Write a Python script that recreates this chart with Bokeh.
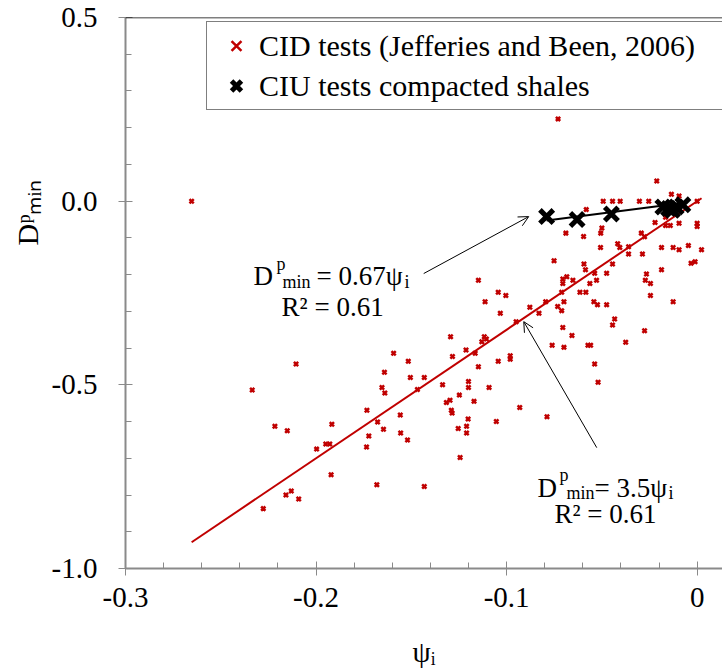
from bokeh.plotting import figure
from bokeh.models import (Legend, LegendItem, Label, Arrow, OpenHead,
                          FixedTicker, Span, Title)
from bokeh.embed import file_html
from bokeh.resources import INLINE

# ---------------- data ----------------
cid_psi = [
    -0.0730, -0.2653, -0.0212, -0.0135, -0.0095, -0.0493, -0.0444, -0.0404,
    -0.0303, -0.0254, 0.0000, -0.0582, -0.0689, -0.0596, -0.0500, -0.0506,
    -0.0221, -0.0166, -0.0166, -0.0141, -0.0095, 0.0000, 0.0000, -0.0293,
    -0.0507, -0.0417, -0.0406, -0.0187, -0.0126, -0.0095, -0.0046, 0.0023,
    -0.0360, -0.0276, -0.0360, -0.0287, -0.0751, -0.0594, -0.0586, -0.0538,
    -0.0444, -0.0475, -0.0187, -0.0032, -0.0011, -0.0266, -0.0272, -0.0245,
    -0.0245, -0.0126, -0.0684, -0.0705, -0.0705, -0.0652, -0.0711, -0.0615,
    -0.0584, -0.0563, -0.0528, -0.0542, -0.0523, -0.0475, -0.0699, -0.0732,
    -0.0711, -0.0795, -0.0830, -0.0878, -0.0950, -0.1044, -0.1004, -0.1113,
    -0.1033, -0.1148, -0.0705, -0.0657, -0.0433, -0.0444, -0.0375, -0.0276,
    -0.0761, -0.0699, -0.0573, -0.0559, -0.0538, -0.1294, -0.1117, -0.1106,
    -0.1130, -0.1284, -0.1213, -0.1165, -0.1148, -0.1044, -0.0981, -0.0981,
    -0.1593, -0.1516, -0.1641, -0.1505, -0.1432, -0.2105, -0.0520, -0.2335,
    -0.2216, -0.2151, -0.1654, -0.1639, -0.1468, -0.1336, -0.1200, -0.1200,
    -0.1092, -0.1248, -0.1316, -0.1297, -0.1171, -0.1290, -0.1286, -0.1202,
    -0.1210, -0.1210, -0.1254, -0.1054, -0.0931, -0.0788, -0.1244, -0.1733,
    -0.1677, -0.1646, -0.1558, -0.1556, -0.1520, -0.1723, -0.1735, -0.1917,
    -0.1949, -0.1928, -0.1997, -0.1921, -0.1681, -0.1432, -0.2130, -0.2158,
    -0.2091, -0.2277,
]
cid_dmin = [
    0.224, 0.000, 0.055, 0.019, 0.014, 0.000, 0.000, 0.000,
    0.000, 0.000, 0.000, -0.023, -0.087, -0.096, -0.073, -0.087,
    -0.058, -0.044, -0.066, -0.066, -0.060, -0.060, -0.069, -0.087,
    -0.126, -0.116, -0.126, -0.126, -0.126, -0.132, -0.121, -0.132,
    -0.124, -0.097, -0.144, -0.144, -0.162, -0.171, -0.187, -0.196,
    -0.171, -0.196, -0.187, -0.169, -0.165, -0.198, -0.215, -0.224,
    -0.257, -0.274, -0.206, -0.212, -0.224, -0.215, -0.248, -0.248,
    -0.248, -0.224, -0.215, -0.274, -0.282, -0.282, -0.274, -0.287,
    -0.298, -0.274, -0.305, -0.289, -0.328, -0.248, -0.257, -0.274,
    -0.305, -0.215, -0.344, -0.366, -0.321, -0.337, -0.384, -0.353,
    -0.392, -0.398, -0.392, -0.392, -0.443, -0.369, -0.369, -0.375,
    -0.383, -0.423, -0.405, -0.414, -0.451, -0.436, -0.421, -0.430,
    -0.414, -0.436, -0.466, -0.480, -0.480, -0.443, -0.493, -0.514,
    -0.613, -0.625, -0.507, -0.522, -0.513, -0.500, -0.491, -0.507,
    -0.507, -0.528, -0.548, -0.542, -0.545, -0.569, -0.577, -0.593,
    -0.613, -0.631, -0.619, -0.600, -0.562, -0.587, -0.698, -0.569,
    -0.601, -0.621, -0.582, -0.631, -0.650, -0.639, -0.669, -0.607,
    -0.661, -0.661, -0.675, -0.745, -0.772, -0.777, -0.789, -0.800,
    -0.811, -0.837,
]
ciu_psi = [-0.079, -0.063, -0.045, -0.018, -0.015, -0.011, -0.0075, -0.013]
ciu_dmin = [-0.042, -0.050, -0.035, -0.016, -0.020, -0.016, -0.010, -0.025]

cid_slope = 3.5     # D^p_min = 3.5 psi_i
ciu_slope = 0.67    # D^p_min = 0.67 psi_i

cid_label = "CID tests (Jefferies and Been, 2006)"
ciu_label = "CIU tests compacted shales"
x_title = "\u03c8\u1d62"                       # psi_i
y_title = "D\u1d56\u2098\u1d62\u2099"          # D^p_min

x_ticks = [-0.3, -0.2, -0.1, 0.0]
x_tick_labels = ["-0.3", "-0.2", "-0.1", "0"]
y_ticks = [-1.0, -0.5, 0.0, 0.5]
y_tick_labels = ["-1.0", "-0.5", "0.0", "0.5"]
x_minor = [round(-0.3 + 0.02 * i, 2) for i in range(16)]
y_minor = [round(-1.0 + 0.1 * i, 1) for i in range(16)]

FONT = "Liberation Serif"
RED = "#C00000"
AXIS_GREY = "#8a8a8a"


def overrides(ticks, labels):
    d = {}
    for t, l in zip(ticks, labels):
        d[float(t)] = l
        s = repr(float(t))
        d[s[:-2] if s.endswith(".0") else s] = l
    return d


p = figure(frame_width=597, frame_height=551,
           x_range=(-0.3, 0.0133), y_range=(-1.0, 0.5),
           output_backend="svg", toolbar_location=None,
           min_border_left=125, min_border_top=17,
           min_border_right=0, min_border_bottom=98)
p.xgrid.visible = False
p.ygrid.visible = False
p.outline_line_color = None
p.background_fill_color = "white"

p.xaxis.ticker = FixedTicker(ticks=x_ticks, minor_ticks=x_minor)
p.yaxis.ticker = FixedTicker(ticks=y_ticks, minor_ticks=y_minor)
p.xaxis.major_label_overrides = overrides(x_ticks, x_tick_labels)
p.yaxis.major_label_overrides = overrides(y_ticks, y_tick_labels)

for ax in (p.xaxis[0], p.yaxis[0]):
    ax.axis_line_color = AXIS_GREY
    ax.axis_line_width = 2
    ax.major_tick_line_color = AXIS_GREY
    ax.minor_tick_line_color = AXIS_GREY
    ax.major_tick_line_width = 1
    ax.minor_tick_line_width = 1
    ax.major_tick_in = 7
    ax.major_tick_out = 7
    ax.minor_tick_in = 6
    ax.minor_tick_out = 0
    ax.major_label_text_font = FONT
    ax.major_label_text_font_size = "29px"
    ax.major_label_text_color = "black"
p.xaxis.major_label_standoff = 12
p.yaxis.major_label_standoff = 21

p.xaxis.axis_label = x_title
p.xaxis.axis_label_text_font = FONT
p.xaxis.axis_label_text_font_size = "29px"
p.xaxis.axis_label_text_font_style = "normal"
p.xaxis.axis_label_text_color = "black"
p.xaxis.axis_label_standoff = 26

p.add_layout(Title(text=y_title, align="left", offset=323,
                   text_font=FONT, text_font_size="30px",
                   text_font_style="normal", text_color="black"), "left")

# top border line
p.add_layout(Span(location=0.5, dimension="width", line_color="black", line_width=1.5))

# fit lines and points
cx0, cx1 = min(cid_psi), max(cid_psi)
p.line([cx0, cx1], [cid_slope * cx0, cid_slope * cx1], line_color=RED, line_width=2)
cid_r = p.scatter(cid_psi, cid_dmin, marker="x", size=6, line_color=RED, line_width=2.5)

ux0, ux1 = min(ciu_psi), max(ciu_psi)
p.line([ux0, ux1], [ciu_slope * ux0, ciu_slope * ux1], line_color="black", line_width=2)
ciu_r = p.scatter(ciu_psi, ciu_dmin, marker="x", size=19, line_color="black", line_width=5)

legend = Legend(items=[LegendItem(label=cid_label, renderers=[cid_r]),
                       LegendItem(label=ciu_label, renderers=[ciu_r])],
                location=(81, 458), margin=0, padding=6, spacing=5,
                label_standoff=0, glyph_width=46, glyph_height=35,
                label_height=35, label_width=458,
                border_line_color="black", border_line_width=1,
                background_fill_color="white", background_fill_alpha=1,
                label_text_font=FONT, label_text_font_size="30px",
                label_text_color="black")
p.add_layout(legend)


def lab(x, y, text, size="27px"):
    p.add_layout(Label(x=x, y=y, text=text, text_font=FONT, text_font_size=size,
                       text_color="black", text_align="left",
                       text_baseline="alphabetic"))


SUB = "18px"
# annotation for CIU fit
lab(-0.2328, -0.2026, "D")
lab(-0.2208, -0.1699, "p", SUB)
lab(-0.2176, -0.2189, "min", SUB)
lab(-0.1998, -0.2026, "= 0.67\u03c8")
lab(-0.1536, -0.2189, "i", SUB)
lab(-0.2181, -0.2870, "R\u00b2 = 0.61")
p.add_layout(Arrow(x_start=-0.1435, y_start=-0.197, x_end=-0.0884, y_end=-0.042,
                   line_color="black", line_width=1,
                   end=OpenHead(size=10, line_width=1, line_color="black")))

# annotation for CID fit
lab(-0.0838, -0.7798, "D")
lab(-0.0723, -0.7444, "p", SUB)
lab(-0.0686, -0.7934, "min", SUB)
lab(-0.0539, -0.7798, "= 3.5\u03c8")
lab(-0.0151, -0.7934, "i", SUB)
lab(-0.0749, -0.8529, "R\u00b2 = 0.61")
p.add_layout(Arrow(x_start=-0.0527, y_start=-0.671, x_end=-0.091, y_end=-0.328,
                   line_color="black", line_width=1,
                   end=OpenHead(size=10, line_width=1, line_color="black")))

open("out.html", "w").write(file_html(p, INLINE))
